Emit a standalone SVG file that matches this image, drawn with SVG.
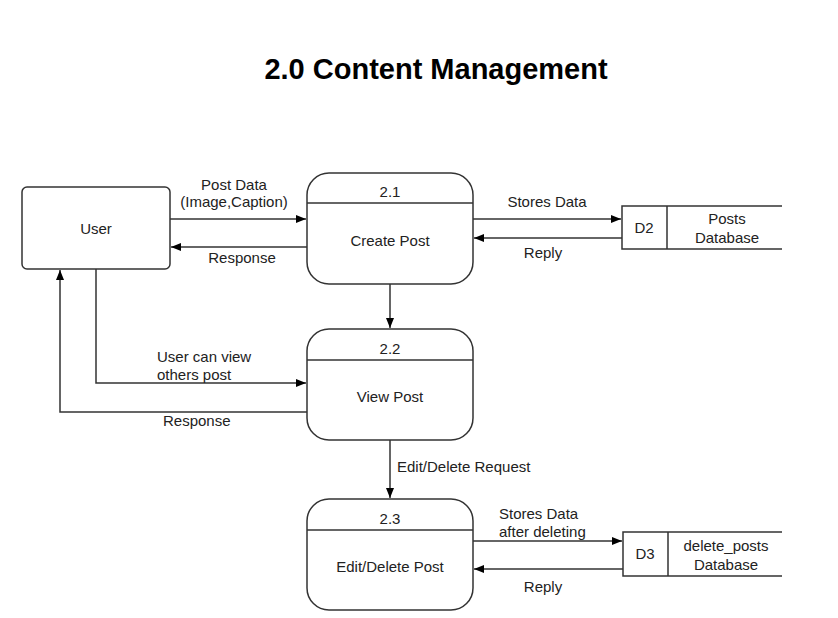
<svg xmlns="http://www.w3.org/2000/svg" width="838" height="618" viewBox="0 0 838 618">
<style>
.n{fill:#fff;stroke:#333;stroke-width:1.5}
.l{fill:none;stroke:#333;stroke-width:1.5}
text{font-family:"Liberation Sans",Arial,sans-serif;font-size:15px;fill:#222}
.c{text-anchor:middle}
.t{font-size:29px;font-weight:bold;fill:#000}
</style>
<defs>
<marker id="a" viewBox="0 0 10 10" refX="10" refY="5" markerWidth="10" markerHeight="10" markerUnits="userSpaceOnUse" orient="auto"><path d="M0,1 L10,5 L0,9 Z" fill="#000"/></marker>
</defs>
<rect width="838" height="618" fill="#fff"/>
<text class="t c" x="436" y="79">2.0 Content Management</text>
<g id="connectors">
<path class="l" d="M170,219 H306" marker-end="url(#a)"/>
<path class="l" d="M307,247 H171" marker-end="url(#a)"/>
<path class="l" d="M473,219 H621" marker-end="url(#a)"/>
<path class="l" d="M622,238 H474" marker-end="url(#a)"/>
<path class="l" d="M390,284 V328" marker-end="url(#a)"/>
<path class="l" d="M96,269 V383 H306" marker-end="url(#a)"/>
<path class="l" d="M307,412 H60 V270" marker-end="url(#a)"/>
<path class="l" d="M390,440 V498" marker-end="url(#a)"/>
<path class="l" d="M473,541 H622" marker-end="url(#a)"/>
<path class="l" d="M623,569 H474" marker-end="url(#a)"/>
<text class="c" x="234" y="190">Post Data</text>
<text class="c" x="234" y="207">(Image,Caption)</text>
<text class="c" x="242" y="263">Response</text>
<text class="c" x="547" y="207">Stores Data</text>
<text class="c" x="543" y="258">Reply</text>
<text x="157" y="362">User can view</text>
<text x="157" y="380">others post</text>
<text x="163" y="426">Response</text>
<text x="397" y="472">Edit/Delete Request</text>
<text x="499" y="519">Stores Data</text>
<text x="499" y="537">after deleting</text>
<text class="c" x="543" y="592">Reply</text>
</g>
<g id="user">
<rect class="n" x="22" y="187" width="148" height="82" rx="5"/>
<text class="c" x="96" y="234">User</text>
</g>
<g id="p21">
<rect class="n" x="307" y="173" width="166" height="111" rx="22"/>
<line class="l" x1="307" y1="203" x2="473" y2="203"/>
<text class="c" x="390" y="197">2.1</text>
<text class="c" x="390" y="246">Create Post</text>
</g>
<g id="p22">
<rect class="n" x="307" y="329" width="166" height="111" rx="22"/>
<line class="l" x1="307" y1="360" x2="473" y2="360"/>
<text class="c" x="390" y="354">2.2</text>
<text class="c" x="390" y="402">View Post</text>
</g>
<g id="p23">
<rect class="n" x="307" y="499" width="166" height="111" rx="22"/>
<line class="l" x1="307" y1="530" x2="473" y2="530"/>
<text class="c" x="390" y="524">2.3</text>
<text class="c" x="390" y="572">Edit/Delete Post</text>
</g>
<g id="d2">
<path class="l" d="M782,206 H622 V249 H782 M667,206 V249"/>
<text class="c" x="644" y="233">D2</text>
<text class="c" x="727" y="224">Posts</text>
<text class="c" x="727" y="243">Database</text>
</g>
<g id="d3">
<path class="l" d="M782,532 H623 V576 H782 M668,532 V576"/>
<text class="c" x="645" y="559">D3</text>
<text class="c" x="726" y="551">delete_posts</text>
<text class="c" x="726" y="570">Database</text>
</g>
</svg>
